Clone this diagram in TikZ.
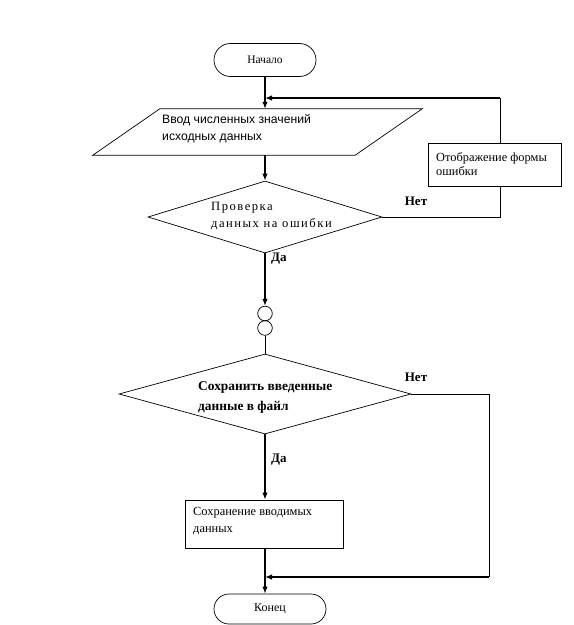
\documentclass[tikz,border=0pt]{standalone}
\usepackage{fontspec}
\setmainfont{Liberation Serif}
\setsansfont{Liberation Sans}
\newfontfamily\spacedserif[LetterSpace=12]{Liberation Serif}
\usetikzlibrary{shapes.geometric,shapes.misc,arrows.meta}
\begin{document}
\begin{tikzpicture}[x=1pt,y=-1pt,
  shp/.style={draw,line width=0.7pt,inner sep=0pt},
  term/.style={shp,rounded rectangle},
  txt/.style={anchor=west,align=left,inner sep=0pt},
  lbl/.style={inner sep=0pt,font=\bfseries\fontsize{13}{15}\selectfont},
  thinline/.style={line width=0.8pt},
  flow/.style={line width=1.3pt,-{Latex[length=7pt,width=5.5pt]}}]
\useasboundingbox (0,0) rectangle (574,625);

% shapes
\node[term,minimum width=102pt,minimum height=33pt,font=\fontsize{11.5}{13}\selectfont] (start) at (265,60) {Начало};
\node[inner sep=0pt,minimum width=262pt,minimum height=46pt] (in) at (257.5,132) {};
\draw[shp] ([xshift=-33.5pt]in.south west) -- ([xshift=33.5pt]in.north west)
  -- ([xshift=33.5pt]in.north east) -- ([xshift=-33.5pt]in.south east) -- cycle;
\node[txt,font=\sffamily\fontsize{12.2}{17}\selectfont] (inT) at (162,129)
  {Ввод численных значений\\исходных данных};

\node[shp,diamond,minimum width=234pt,minimum height=72pt] (chk) at (265,217) {};
\node[txt,font=\spacedserif\fontsize{12.6}{17}\selectfont] (chkT) at (211,216.5)
  {Проверка\\данных на ошибки};

\coordinate (r1) at (500,98);
\coordinate (fb) at (265,98);
\draw[thinline] (chk.east) -| (r1);
\draw[flow] (r1) -- (fb);

\node[shp,fill=white,minimum width=133pt,minimum height=43pt] (err) at (494.5,164.5) {};
\node[txt,font=\fontsize{12.4}{14}\selectfont] (errT) at (436,164)
  {Отображение формы\\ошибки};

\node[lbl] (no1) at (416,201) {Нет};
\node[lbl,anchor=west] (yes1) at (271,259) {Да};

\node[shp,circle,minimum size=14.6pt] (c1) at (265,313.5) {};
\node[shp,circle,minimum size=14.6pt] (c2) at (265,328) {};

\node[shp,diamond,minimum width=292pt,minimum height=80pt] (save) at (265,394) {};
\node[txt,font=\bfseries\fontsize{13.4}{20}\selectfont] (saveT) at (198,397)
  {Сохранить введенные\\данные в файл};
\node[lbl] (no2) at (416,377) {Нет};
\node[lbl,anchor=west] (yes2) at (271,460) {Да};

\node[shp,minimum width=158pt,minimum height=48pt] (sv) at (264,524) {};
\node[txt,font=\fontsize{12.4}{17}\selectfont] (svT) at (193,521)
  {Сохранение вводимых\\данных};

\node[term,minimum width=112pt,minimum height=30pt,font=\fontsize{12}{14}\selectfont] (end) at (270,609) {Конец};

% connectors
\draw[flow] (start.south) -- (start.south |- in.north);
\draw[flow] (start.south |- in.south) -- (chk.north);
\draw[flow] (chk.south) -- (c1.north);
\draw[thinline] (c2.south) -- (save.north);
\draw[flow] (save.south) -- (save.south |- sv.north);
\coordinate (r2) at (489,577);
\coordinate (m2) at (265,577);
\draw[thinline] (save.east) -| (r2);
\draw[flow] (r2) -- (m2);
\draw[flow] (save.south |- sv.south) -- (save.south |- end.north);
\end{tikzpicture}
\end{document}
